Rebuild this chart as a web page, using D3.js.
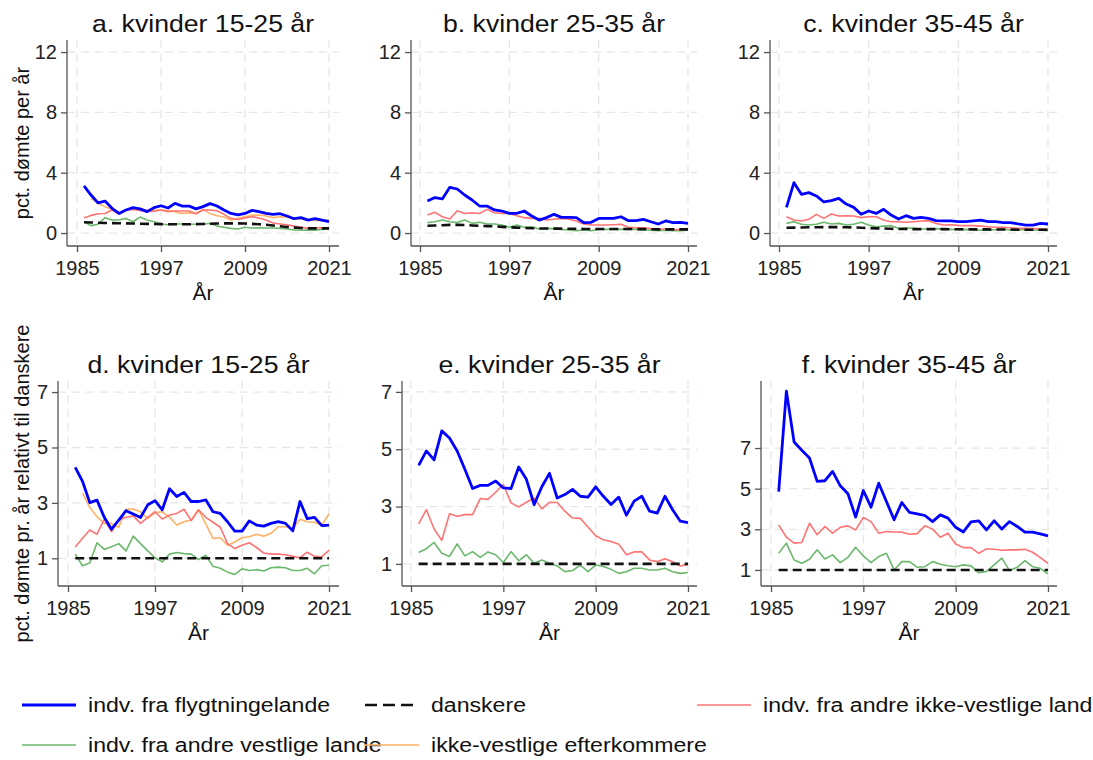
<!DOCTYPE html>
<html>
<head>
<meta charset="utf-8">
<script src="https://cdn.jsdelivr.net/npm/d3@7"></script>
<style>
  body { margin: 0; background: #fff; }
  svg { font-family: Arial, "Liberation Sans", sans-serif; }
  .grid line { stroke: #e6e6e6; stroke-width: 1.3; stroke-dasharray: 8,6; }
  .axis path, .axis line { stroke: #555; stroke-width: 1.3; }
  .axis text { fill: #222; font-size: 20px; }
</style>
</head>
<body>
<svg width="1093" height="760"></svg>
<script>

// years on the x axis (one value per year)
var years = d3.range(1986, 2022);
var xTicks = [1985, 1997, 2009, 2021];
var yTicksTop = [0, 4, 8, 12];
var yTicksBottom = [1, 3, 5, 7];

// a. kvinder 15-25 år, pct. dømte per år
var flyA   = [3.12,2.52,2.0,2.12,1.64,1.3,1.53,1.68,1.6,1.42,1.68,1.81,1.66,1.97,1.79,1.79,1.6,1.75,1.95,1.79,1.53,1.3,1.2,1.3,1.5,1.42,1.3,1.24,1.28,1.13,0.95,1.02,0.86,0.95,0.86,0.75];
var andreA = [1.02,1.17,1.28,1.3,1.53,1.26,1.53,1.57,1.5,1.42,1.44,1.53,1.42,1.46,1.46,1.46,1.28,1.53,1.53,1.48,1.24,0.97,0.9,1.0,1.08,1.0,0.86,0.66,0.6,0.55,0.46,0.38,0.31,0.33,0.35,0.31];
var vestA  = [0.75,0.49,0.58,1.02,0.86,0.86,0.97,0.75,1.06,0.86,0.75,0.6,0.55,0.6,0.6,0.58,0.58,0.58,0.64,0.46,0.38,0.31,0.27,0.38,0.33,0.35,0.33,0.33,0.31,0.27,0.2,0.18,0.2,0.18,0.24,0.27];
var efterA = [null,2.3,1.97,1.75,1.57,1.35,1.53,1.64,1.6,1.53,1.5,1.53,1.48,1.42,1.3,1.35,1.3,1.57,1.3,1.15,1.06,0.86,0.97,1.08,1.17,1.2,1.13,1.02,1.08,1.06,0.93,0.93,0.86,0.84,0.82,0.86];
var danskA = [0.71,0.70,0.68,0.67,0.66,0.65,0.64,0.63,0.62,0.61,0.60,0.59,0.58,0.58,0.58,0.58,0.59,0.60,0.62,0.63,0.64,0.64,0.64,0.63,0.61,0.58,0.55,0.50,0.45,0.40,0.36,0.33,0.31,0.31,0.31,0.31];

// b. kvinder 25-35 år
var flyB   = [2.12,2.35,2.26,3.03,2.92,2.52,2.19,1.79,1.79,1.53,1.46,1.3,1.3,1.46,1.13,0.86,1.02,1.24,1.04,1.04,1.02,0.69,0.71,0.97,0.97,0.97,1.08,0.82,0.82,0.91,0.75,0.6,0.8,0.69,0.71,0.64];
var andreB = [1.19,1.37,1.08,0.93,1.48,1.3,1.35,1.3,1.57,1.35,1.3,1.3,1.15,1.02,0.97,0.97,0.86,0.91,0.97,0.91,0.8,0.6,0.53,0.53,0.53,0.55,0.58,0.38,0.35,0.35,0.29,0.27,0.27,0.24,0.22,0.24];
var vestB  = [0.69,0.75,0.86,0.75,0.69,0.86,0.64,0.71,0.6,0.6,0.53,0.38,0.53,0.38,0.42,0.27,0.31,0.29,0.24,0.2,0.15,0.2,0.15,0.24,0.24,0.24,0.24,0.24,0.24,0.2,0.18,0.15,0.18,0.15,0.15,0.18];
var danskB = [0.48,0.5,0.52,0.54,0.54,0.53,0.5,0.48,0.46,0.44,0.41,0.38,0.36,0.34,0.32,0.3,0.3,0.29,0.29,0.28,0.28,0.27,0.27,0.27,0.27,0.27,0.27,0.27,0.26,0.26,0.25,0.24,0.24,0.24,0.24,0.24];

// c. kvinder 35-45 år
var flyC   = [1.7,3.34,2.57,2.68,2.46,2.06,2.15,2.3,1.92,1.7,1.24,1.46,1.3,1.57,1.19,0.93,1.15,0.97,1.04,0.97,0.82,0.8,0.8,0.75,0.75,0.8,0.86,0.75,0.75,0.69,0.69,0.6,0.53,0.53,0.64,0.6];
var andreC = [1.08,0.86,0.8,0.91,1.24,0.97,1.26,1.13,1.15,1.13,1.02,1.08,1.08,0.86,0.75,0.75,0.71,0.75,0.8,0.82,0.64,0.53,0.55,0.51,0.49,0.49,0.46,0.42,0.38,0.38,0.35,0.31,0.31,0.29,0.27,0.24];
var vestC  = [0.64,0.75,0.58,0.53,0.58,0.71,0.6,0.64,0.53,0.58,0.71,0.53,0.42,0.46,0.49,0.31,0.35,0.31,0.27,0.27,0.29,0.24,0.24,0.22,0.24,0.22,0.18,0.18,0.22,0.27,0.18,0.2,0.24,0.2,0.18,0.15];
var danskC = [0.35,0.36,0.37,0.38,0.38,0.39,0.39,0.39,0.38,0.37,0.35,0.33,0.31,0.3,0.28,0.27,0.27,0.26,0.26,0.26,0.26,0.26,0.25,0.25,0.25,0.24,0.24,0.24,0.23,0.23,0.23,0.22,0.22,0.22,0.22,0.22];

// d. kvinder 15-25 år, relativt til danskere
var flyD   = [4.28,3.78,3.01,3.1,2.48,2.05,2.38,2.72,2.6,2.47,2.93,3.08,2.75,3.51,3.23,3.38,3.05,3.05,3.11,2.68,2.62,2.32,1.98,1.98,2.35,2.2,2.16,2.26,2.32,2.26,1.99,3.05,2.43,2.48,2.18,2.2];
var andreD = [1.41,1.72,2.02,1.87,2.41,1.96,2.38,2.48,2.53,2.26,2.48,2.68,2.42,2.56,2.62,2.77,2.36,2.75,2.48,2.3,2.12,1.53,1.35,1.47,1.56,1.39,1.19,1.15,1.15,1.13,1.07,1.02,1.22,1.07,1.05,1.29];
var vestD  = [1.15,0.73,0.83,1.56,1.32,1.42,1.53,1.27,1.8,1.53,1.27,1.02,0.87,1.15,1.21,1.17,1.15,0.95,1.11,0.71,0.64,0.5,0.42,0.62,0.56,0.59,0.54,0.66,0.68,0.66,0.56,0.56,0.64,0.44,0.73,0.75];
var efterD = [null,3.35,2.84,2.5,2.26,2.26,2.12,2.77,2.78,2.68,2.44,2.65,2.68,2.48,2.2,2.32,2.38,2.75,2.24,1.72,1.74,1.47,1.59,1.74,1.78,1.87,1.8,1.9,2.14,2.14,2.08,2.41,2.32,2.3,2.2,2.6];

// e. kvinder 25-35 år, relativt til danskere
var flyE   = [4.44,4.94,4.63,5.64,5.39,4.94,4.3,3.63,3.74,3.74,3.89,3.65,3.63,4.38,3.95,3.07,3.69,4.16,3.3,3.42,3.6,3.36,3.33,3.69,3.36,3.07,3.33,2.7,3.19,3.36,2.84,2.77,3.36,2.89,2.49,2.44];
var andreE = [2.4,2.89,2.22,1.82,2.75,2.66,2.72,2.72,3.28,3.25,3.5,3.77,3.13,2.99,3.15,3.3,2.92,3.15,3.14,2.84,2.6,2.59,2.29,1.98,1.84,1.78,1.69,1.32,1.42,1.42,1.14,1.08,1.18,1.08,0.93,0.98];
var vestE  = [1.4,1.53,1.75,1.37,1.26,1.7,1.28,1.43,1.23,1.42,1.32,1.05,1.43,1.11,1.32,1.02,1.14,1.02,0.93,0.73,0.77,0.96,0.73,0.96,0.91,0.81,0.67,0.73,0.85,0.85,0.79,0.79,0.85,0.73,0.67,0.7];

// f. kvinder 35-45 år, relativt til danskere
var flyF   = [4.86,9.8,7.3,6.89,6.51,5.36,5.39,5.85,5.14,4.75,3.6,4.91,4.09,5.27,4.37,3.47,4.32,3.83,3.76,3.68,3.38,3.71,3.55,3.1,2.87,3.37,3.42,2.97,3.42,3.01,3.38,3.14,2.86,2.86,2.78,2.68];
var andreF = [3.22,2.61,2.32,2.35,3.3,2.73,3.14,2.81,3.1,3.17,2.97,3.58,3.38,2.81,2.89,2.87,2.86,2.76,2.79,3.17,3.01,2.61,2.81,2.28,2.1,2.1,1.82,2.04,2.02,1.97,1.99,1.99,2.02,1.87,1.61,1.33];
var vestF  = [1.82,2.32,1.49,1.33,1.53,1.99,1.54,1.74,1.36,1.62,2.12,1.69,1.36,1.66,1.82,1.0,1.41,1.41,1.13,1.16,1.41,1.28,1.21,1.16,1.25,1.2,0.87,0.92,1.25,1.58,0.97,1.13,1.46,1.16,1.08,0.8];

// danskere are the reference group in the bottom row
var danskRel = years.map(function() { return 1; });

// series styles, drawn in this order (black dashed on top of the thin lines)
var styles = {
    vest:  { color: "#6cb86c", width: 1.6, label: "indv. fra andre vestlige lande" },
    efter: { color: "#ffb266", width: 1.6, label: "ikke-vestlige efterkommere" },
    andre: { color: "#ff7373", width: 1.6, label: "indv. fra andre ikke-vestlige lande" },
    dansk: { color: "#111", width: 2.6, dash: "9,5", label: "danskere" },
    fly:   { color: "#0000ff", width: 2.8, label: "indv. fra flygtningelande" }
};
var drawOrder = ["vest", "efter", "andre", "dansk", "fly"];

var panels = [
    { title: "a. kvinder 15-25 år", left: 67, right: 339, top: 40, bottom: 246, x0: 77, x1: 329,
      yDomain: [-0.86, 12.8], yTicks: yTicksTop, ylab: "pct. dømte per år",
      series: { fly: flyA, andre: andreA, vest: vestA, efter: efterA, dansk: danskA } },
    { title: "b. kvinder 25-35 år", left: 411, right: 697, top: 40, bottom: 246, x0: 420, x1: 688,
      yDomain: [-0.86, 12.8], yTicks: yTicksTop,
      series: { fly: flyB, andre: andreB, vest: vestB, dansk: danskB } },
    { title: "c. kvinder 35-45 år", left: 770, right: 1057, top: 40, bottom: 246, x0: 779, x1: 1048,
      yDomain: [-0.86, 12.8], yTicks: yTicksTop,
      series: { fly: flyC, andre: andreC, vest: vestC, dansk: danskC } },
    { title: "d. kvinder 15-25 år", left: 58, right: 339, top: 381, bottom: 586, x0: 68, x1: 329,
      yDomain: [0, 7.4], yTicks: yTicksBottom, ylab: "pct. dømte pr. år relativt til danskere",
      series: { fly: flyD, andre: andreD, vest: vestD, efter: efterD, dansk: danskRel } },
    { title: "e. kvinder 25-35 år", left: 402, right: 697, top: 381, bottom: 586, x0: 411, x1: 688,
      yDomain: [0.23, 7.38], yTicks: yTicksBottom,
      series: { fly: flyE, andre: andreE, vest: vestE, dansk: danskRel } },
    { title: "f. kvinder 35-45 år", left: 761, right: 1057, top: 381, bottom: 586, x0: 771, x1: 1048,
      yDomain: [0.21, 10.3], yTicks: yTicksBottom,
      series: { fly: flyF, andre: andreF, vest: vestF, dansk: danskRel } }
];

var svg = d3.select("svg");
svg.append("rect").attr("width", 1093).attr("height", 760).attr("fill", "#fff");

panels.forEach(drawPanel);
drawLegend();

// horizontal text, slightly widened to match the original export
function wideText(parent, x, y, str, size, sx, anchor) {
    return parent.append("text")
        .attr("transform", "translate(" + x + "," + y + ") scale(" + sx + ",1)")
        .attr("text-anchor", anchor || "start")
        .attr("font-size", size)
        .attr("fill", "#111")
        .text(str);
}

function drawPanel(p) {
    var g = svg.append("g");

    var x = d3.scaleLinear().domain([1985, 2021]).range([p.x0, p.x1]);
    var y = d3.scaleLinear().domain(p.yDomain).range([p.bottom, p.top]);

    // dashed grid lines
    var grid = g.append("g").attr("class", "grid");
    grid.selectAll(".gy").data(p.yTicks).enter().append("line")
        .attr("x1", p.left).attr("x2", p.right)
        .attr("y1", function(d) { return y(d); })
        .attr("y2", function(d) { return y(d); });
    grid.selectAll(".gx").data(xTicks).enter().append("line")
        .attr("x1", function(d) { return x(d); })
        .attr("x2", function(d) { return x(d); })
        .attr("y1", p.top).attr("y2", p.bottom);

    // y axis
    var yAxis = g.append("g").attr("class", "axis")
        .attr("transform", "translate(" + p.left + ",0)")
        .call(d3.axisLeft(y).tickValues(p.yTicks).tickSize(6).tickPadding(4).tickSizeOuter(0));
    yAxis.select(".domain").attr("d", "M0," + p.top + "V" + p.bottom);
    yAxis.selectAll("text").attr("font-size", 21);

    // x axis
    var xAxis = g.append("g").attr("class", "axis")
        .attr("transform", "translate(0," + p.bottom + ")")
        .call(d3.axisBottom(x).tickValues(xTicks).tickFormat(d3.format("d")).tickSize(6).tickPadding(9).tickSizeOuter(0));
    xAxis.select(".domain").attr("d", "M" + p.left + ",0H" + p.right);
    xAxis.selectAll("text").attr("dy", "0.71em").attr("font-size", 21);

    // axis titles
    wideText(g, (p.left + p.right) / 2, p.bottom + 54, "År", 20, 1.05, "middle");
    if (p.ylab) {
        g.append("text")
            .attr("transform", "translate(29," + ((p.top + p.bottom) / 2) + ") rotate(-90)")
            .attr("text-anchor", "middle").attr("font-size", 20).attr("fill", "#111")
            .text(p.ylab);
    }

    // panel title
    wideText(g, (p.left + p.right) / 2, p.top - 8, p.title, 24, 1.11, "middle");

    // the lines
    var line = d3.line()
        .defined(function(d) { return d[1] != null; })
        .x(function(d) { return x(d[0]); })
        .y(function(d) { return y(d[1]); });

    drawOrder.forEach(function(key) {
        var vals = p.series[key];
        if (!vals) return;
        var st = styles[key];
        g.append("path")
            .datum(years.map(function(yr, i) { return [yr, vals[i]]; }))
            .attr("fill", "none")
            .attr("stroke", st.color)
            .attr("stroke-width", st.width)
            .attr("stroke-linejoin", "round")
            .attr("stroke-dasharray", st.dash || null)
            .attr("d", line);
    });
}

function drawLegend() {
    var items = [
        { key: "fly",   x: 22,  y: 705 },
        { key: "dansk", x: 365, y: 705 },
        { key: "andre", x: 697, y: 705 },
        { key: "vest",  x: 22,  y: 745 },
        { key: "efter", x: 365, y: 745 }
    ];
    var lg = svg.append("g");
    items.forEach(function(it) {
        var st = styles[it.key];
        lg.append("line")
            .attr("x1", it.x).attr("x2", it.x + 54)
            .attr("y1", it.y).attr("y2", it.y)
            .attr("stroke", st.color)
            .attr("stroke-width", st.width)
            .attr("stroke-dasharray", st.dash ? "12,6" : null);
        wideText(lg, it.x + 66, it.y + 7, st.label, 21, 1.1, "start");
    });
}
</script>
</body>
</html>
